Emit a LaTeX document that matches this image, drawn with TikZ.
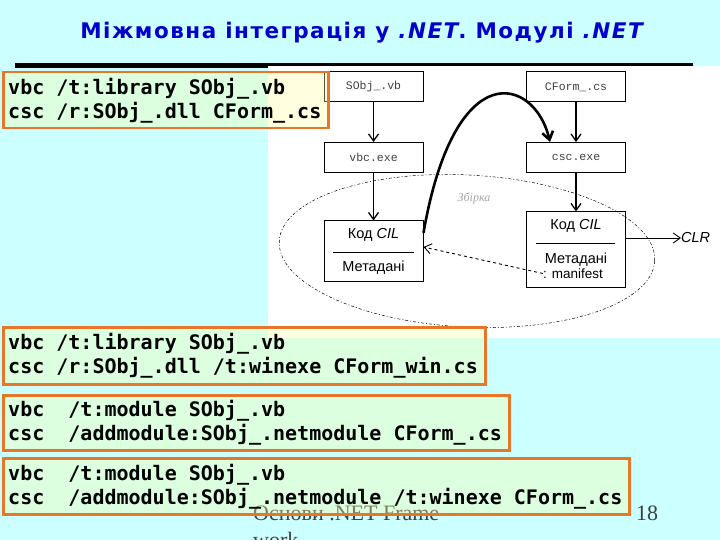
\documentclass[tikz,border=0pt]{standalone}
\usepackage{fontspec}
\setmainfont{Liberation Serif}
\newfontfamily\titlefont{DejaVu Sans}[LetterSpace=7]
\newfontfamily\diafont{Liberation Sans}
\newfontfamily\cmdfont{DejaVu Sans Mono}[BoldFont={DejaVu Sans Mono Bold}]
\newfontfamily\srcfont{Liberation Mono}
\newcommand\csp{\hspace*{0.602em}}   % one full-width space of the mono font
\usetikzlibrary{arrows.meta, positioning}

\definecolor{slidebg}{RGB}{204,255,255}
\definecolor{titleblue}{RGB}{0,0,205}
\definecolor{cmdorange}{RGB}{232,118,40}
\definecolor{cmdfill}{RGB}{255,255,160}

\begin{document}
\begin{tikzpicture}[
    x=1pt, y=-1pt,    % pixel grid, origin top left
    >=Stealth,
    srcbox/.style={draw, line width=1pt, minimum width=99pt, minimum height=30pt,
                   inner sep=0pt, font=\srcfont\fontsize{11.5}{12}\selectfont, text=black!75},
    cilbox/.style={draw, line width=1pt, minimum width=99pt, inner sep=0pt},
    dia/.style={font=\diafont\fontsize{14.5}{15}\selectfont, inner sep=0pt},
    flow/.style={line width=1.3pt, -{Straight Barb[length=7pt, width=10pt]}},
    cmdbox/.style={draw=cmdorange, line width=2.5pt, fill=cmdfill, fill opacity=0.33,
                   text opacity=1, anchor=north west, inner xsep=5pt, inner ysep=0pt,
                   align=left, font=\cmdfont\bfseries\fontsize{20}{24}\selectfont},
    foot/.style={anchor=base west, text=black!75, inner sep=0pt,
                 font=\fontsize{22}{26}\selectfont},
]

% ── Slide background ─────────────────────────────────────────────────────────
\useasboundingbox (0,0) rectangle (720,540);
\fill[slidebg] (0,0) rectangle (720,540);

% ── Title and rule ───────────────────────────────────────────────────────────
\node[text=titleblue, font=\titlefont\bfseries\fontsize{21.5}{24}\selectfont]
    (title) at (363,33) {Міжмовна інтеграція у \textit{.NET}. Модулі \textit{.NET}};
\draw[line width=5pt] (15,65.5) -- (693,65.5);

% ── Diagram area ─────────────────────────────────────────────────────────────
\fill[white] (268,66.5) rectangle (720,338);

% Source files and compilers
\node[srcbox] (srcvb) at (373.5,87)  {SObj\_.vb};
\node[srcbox] (srccs) at (576,87)    {CForm\_.cs};
\node[srcbox] (vbc)   at (373.5,157.5) {vbc.exe};
\node[srcbox] (csc)   at (576,157.5)   {csc.exe};

% Modules with CIL code and metadata
\node[cilbox, minimum height=60pt] (cilL) at (373.5,251) {};
\node[dia] (codeL) at (373.5,235) {Код \textit{CIL}};
\node[dia] (metaL) at (373.5,268) {Метадані};
\draw[line width=0.8pt] (333,252) -- (414,252);

\node[cilbox, minimum height=75pt] (cilR) at (576,249.5) {};
\node[dia] (codeR) at (576,226) {Код \textit{CIL}};
\node[dia] (metaR) at (576,259.5) {Метадані};
\node[dia, font=\diafont\fontsize{13.5}{14}\selectfont] (mani) at (573,273.5) {: manifest};
\draw[line width=0.8pt] (536,243) -- (615,243);

% Assembly boundary
\draw[line width=0.5pt, dash pattern=on 3pt off 2pt on 1pt off 2pt]
    (467,251) ellipse[x radius=188, y radius=76, rotate=-3];
\node[font=\itshape\fontsize{12}{12}\selectfont, text=black!35] (asm) at (474,198) {Збірка};

\node[dia, font=\diafont\itshape\fontsize{14.5}{15}\selectfont, anchor=west] (clr) at (681,238) {CLR};

% ── Connectors ───────────────────────────────────────────────────────────────
\draw[flow] (srcvb) -- (vbc);
\draw[flow] (vbc) -- (cilL);
\draw[flow] (srccs) -- (csc);
\draw[flow] (csc) -- (cilR);

\draw[line width=0.9pt, -{Straight Barb[length=7pt, width=10pt]}]
    ([yshift=11.5pt]cilR.east) -- (clr.west);
\draw[line width=0.9pt, dashed, -{Straight Barb[length=7pt, width=10pt]}]
    (mani.west) -- ([yshift=4pt]cilL.east);
\draw[line width=2.6pt, -{Straight Barb[length=8pt, width=11pt]}]
    (cilL.20) .. controls (455,52) and (535,78) .. ([xshift=-26pt]csc.north);

% ── Footer ───────────────────────────────────────────────────────────────────
\node[foot] (foot1) at (253,520) {Основи .NET Frame};
\node[foot] (foot2) at (253,547) {work};
\node[foot] (pagenum) at (636,520) {18};

% ── Command boxes ────────────────────────────────────────────────────────────
\node[cmdbox, minimum width=325pt, minimum height=56pt, text width=315pt] (cmdA) at (2,71)
    {vbc\csp/t:library\csp SObj\_.vb\\csc\csp/r:SObj\_.dll\csp CForm\_.cs};
\node[cmdbox, minimum width=482pt, minimum height=57pt, text width=472pt] (cmdB) at (2,326)
    {vbc\csp/t:library\csp SObj\_.vb\\csc\csp/r:SObj\_.dll\csp/t:winexe\csp CForm\_win.cs};
\node[cmdbox, minimum width=506pt, minimum height=55pt, text width=496pt] (cmdC) at (2,394)
    {vbc\csp\csp/t:module\csp SObj\_.vb\\csc\csp\csp/addmodule:SObj\_.netmodule\csp CForm\_.cs};
\node[cmdbox, minimum width=626pt, minimum height=56pt, text width=616pt] (cmdD) at (2,457)
    {vbc\csp\csp/t:module\csp SObj\_.vb\\csc\csp\csp/addmodule:SObj\_.netmodule\csp/t:winexe\csp CForm\_.cs};

\end{tikzpicture}
\end{document}
